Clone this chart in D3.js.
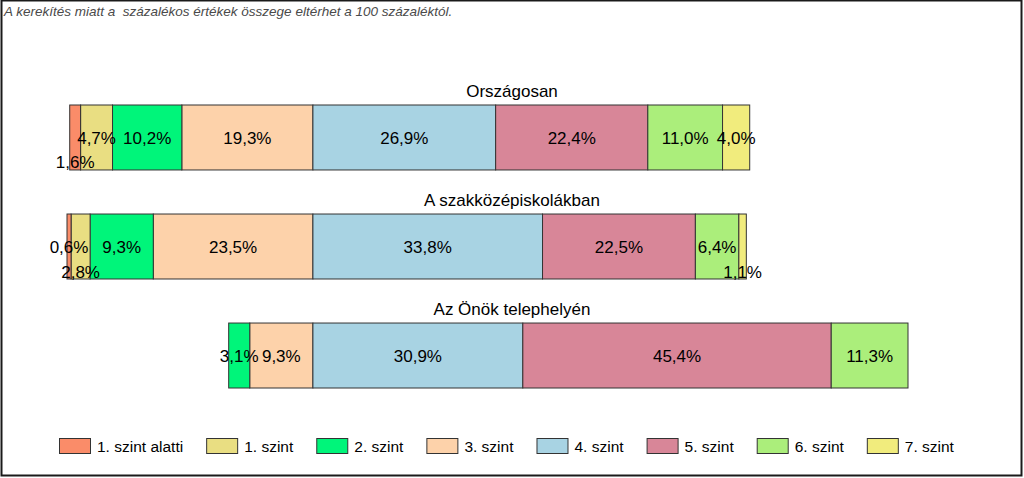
<!DOCTYPE html>
<html>
<head>
<meta charset="utf-8">
<script src="https://cdn.jsdelivr.net/npm/d3@7"></script>
<style>
	html, body { margin: 0; padding: 0; background: #fff; }
	svg { display: block; font-family: "Liberation Sans", Arial, sans-serif; }
</style>
</head>
<body>
<svg width="1024" height="478"></svg>
<script>
// rows (top to bottom)
var categories = ["Országosan", "A szakközépiskolákban", "Az Önök telephelyén"];
// levels, the first four are stacked to the left of the 3./4. border
var levels = ["1. szint alatti", "1. szint", "2. szint", "3. szint", "4. szint", "5. szint", "6. szint", "7. szint"];
var orszagosan = [1.6, 4.7, 10.2, 19.3, 26.9, 22.4, 11.0, 4.0];
var szakkozep = [0.6, 2.8, 9.3, 23.5, 33.8, 22.5, 6.4, 1.1];
var telephely = [0, 0, 3.1, 9.3, 30.9, 45.4, 11.3, 0];
var colors = ["#FA8C69", "#E9DE82", "#00F57A", "#FDD2AA", "#A8D3E3", "#D88698", "#ABEE7B", "#F1EC7D"];
// labels that would collide with a neighbour are moved to the bar bottom
var loweredLabels = [["Országosan", "1. szint alatti"], ["A szakközépiskolákban", "1. szint"], ["A szakközépiskolákban", "7. szint"]];
var note = "A kerekítés miatt a  százalékos értékek összege eltérhet a 100 százaléktól.";

var rows = [orszagosan, szakkozep, telephely];
var leftCount = 4;

var svg = d3.select("svg");

svg.append("rect")
	.attr("x", 1.5).attr("y", 0.5)
	.attr("width", 1020).attr("height", 475)
	.attr("fill", "#fff")
	.attr("stroke", "#1a1a1a")
	.attr("stroke-width", 2);

svg.append("text")
	.attr("x", 4).attr("y", 16)
	.attr("font-size", 13.5)
	.attr("font-style", "italic")
	.attr("fill", "#4a4a4a")
	.attr("xml:space", "preserve")
	.style("white-space", "pre")
	.text(note);

var x = d3.scaleLinear().domain([-36.2, 87.6]).range([67, 908]);
var y = d3.scaleBand().domain(categories).range([105, 388]).paddingInner(0.404);
var color = d3.scaleOrdinal().domain(levels).range(colors);

// build segments
var segments = [];
rows.forEach(function(vals, r) {
	var cat = categories[r];
	var acc = 0;
	for (var i = leftCount - 1; i >= 0; i--) {
		segments.push({ cat: cat, level: levels[i], value: vals[i], x0: acc - vals[i], x1: acc });
		acc -= vals[i];
	}
	acc = 0;
	for (var j = leftCount; j < levels.length; j++) {
		segments.push({ cat: cat, level: levels[j], value: vals[j], x0: acc, x1: acc + vals[j] });
		acc += vals[j];
	}
});
segments = segments.filter(function(d) { return d.value > 0; });

svg.selectAll(".title")
	.data(categories)
	.enter()
	.append("text")
	.attr("class", "title")
	.attr("x", 512)
	.attr("y", function(d) { return y(d) - 8; })
	.attr("text-anchor", "middle")
	.attr("font-size", 17)
	.attr("fill", "#000")
	.text(function(d) { return d; });

svg.selectAll(".seg")
	.data(segments)
	.enter()
	.append("rect")
	.attr("class", "seg")
	.attr("x", function(d) { return x(d.x0); })
	.attr("y", function(d) { return y(d.cat); })
	.attr("width", function(d) { return x(d.x1) - x(d.x0); })
	.attr("height", y.bandwidth())
	.attr("fill", function(d) { return color(d.level); })
	.attr("stroke", "#333")
	.attr("stroke-width", 1);

function isLowered(d) {
	return loweredLabels.some(function(p) { return p[0] === d.cat && p[1] === d.level; });
}

svg.selectAll(".lbl")
	.data(segments)
	.enter()
	.append("text")
	.attr("class", "lbl")
	.attr("x", function(d) { return (x(d.x0) + x(d.x1)) / 2; })
	.attr("y", function(d) {
		var c = y(d.cat) + y.bandwidth() / 2;
		return isLowered(d) ? c + 31 : c + 6.5;
	})
	.attr("text-anchor", "middle")
	.attr("font-size", 17)
	.attr("fill", "#000")
	.text(function(d) { return d3.format(".1f")(d.value).replace(".", ",") + "%"; });

// legend
var legend = svg.append("g").attr("class", "legend");
var lx = 59;
levels.forEach(function(lev) {
	var g = legend.append("g").attr("transform", "translate(" + lx + ",438)");
	g.append("rect")
		.attr("x", 0.5).attr("y", 0.5)
		.attr("width", 31).attr("height", 15)
		.attr("fill", color(lev))
		.attr("stroke", "#333")
		.attr("stroke-width", 1);
	var t = g.append("text")
		.attr("x", 38).attr("y", 14)
		.attr("font-size", 15.5)
		.attr("fill", "#000")
		.text(lev);
	lx += 38 + t.node().getComputedTextLength() + 23;
});
</script>
</body>
</html>
